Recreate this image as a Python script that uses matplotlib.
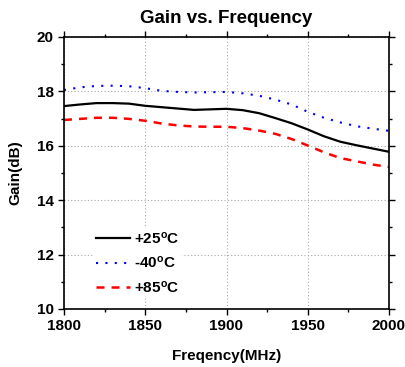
import matplotlib
matplotlib.use('Agg')
import matplotlib.pyplot as plt
from matplotlib.ticker import MultipleLocator

plt.rcParams['font.family'] = ['Liberation Sans', 'DejaVu Sans']
plt.rcParams['font.weight'] = 'bold'
plt.rcParams['mathtext.fontset'] = 'custom'
plt.rcParams['mathtext.rm'] = 'Liberation Sans:bold'
plt.rcParams['mathtext.default'] = 'rm'

freq = [1800, 1810, 1820, 1830, 1840, 1850, 1860, 1870, 1880, 1890, 1900,
        1910, 1920, 1930, 1940, 1950, 1960, 1970, 1980, 1990, 2000]
gain_25 = [17.46, 17.52, 17.57, 17.57, 17.55, 17.47, 17.42, 17.37, 17.32, 17.34, 17.36,
           17.31, 17.20, 17.02, 16.83, 16.60, 16.35, 16.15, 16.02, 15.90, 15.78]
gain_m40 = [18.05, 18.15, 18.20, 18.21, 18.19, 18.12, 18.02, 17.98, 17.96, 17.97, 17.98,
            17.93, 17.84, 17.70, 17.52, 17.25, 17.03, 16.86, 16.72, 16.63, 16.55]
gain_85 = [16.95, 16.99, 17.03, 17.03, 16.99, 16.92, 16.82, 16.75, 16.71, 16.70, 16.70,
           16.65, 16.56, 16.44, 16.25, 16.01, 15.76, 15.55, 15.43, 15.31, 15.22]

fig = plt.figure(figsize=(4.06, 3.67), dpi=100)
ax = fig.add_axes([64/406, 1-309/367, 325/406, 272/367])

ax.plot(freq, gain_25, color='black', lw=1.6, label=r'+25$^{\rm o}$C')
ax.plot(freq, gain_m40, color='blue', lw=1.5, dashes=(1, 3.5), dash_capstyle='butt',
        label=r'-40$^{\rm o}$C')
ax.plot(freq, gain_85, color='red', lw=1.8, dashes=(3.2, 2.8), label=r'+85$^{\rm o}$C')

ax.set_xlim(1800, 2000)
ax.set_ylim(10, 20)
ax.xaxis.set_major_locator(MultipleLocator(50))
ax.xaxis.set_minor_locator(MultipleLocator(25))
ax.yaxis.set_major_locator(MultipleLocator(2))
ax.yaxis.set_minor_locator(MultipleLocator(1))
ax.tick_params(which='both', direction='out', top=True, right=True, labeltop=False,
               labelright=False, labelsize=11, width=1)
ax.tick_params(which='major', length=4)
ax.tick_params(which='minor', length=2.5)
ax.grid(True, which='major', color='#aaaaaa', linestyle=(0, (1, 2)), lw=0.8)
for s in ax.spines.values():
    s.set_linewidth(1.2)

ax.set_title('Gain vs. Frequency', fontsize=13.5, fontweight='bold', pad=10)
ax.set_xlabel('Freqency(MHz)', fontsize=11, fontweight='bold', labelpad=11)
ax.set_ylabel('Gain(dB)', fontsize=11, fontweight='bold', labelpad=10)

leg = ax.legend(loc='upper left', bbox_to_anchor=(0.089, 0.30), borderaxespad=0,
                borderpad=0.2, frameon=True, fancybox=False, fontsize=11,
                handlelength=2.2, labelspacing=0.55, handletextpad=0.26)
leg.get_frame().set_edgecolor('none')
leg.get_frame().set_facecolor('white')
leg.get_frame().set_alpha(1)

fig.savefig('out.png', dpi=100)
